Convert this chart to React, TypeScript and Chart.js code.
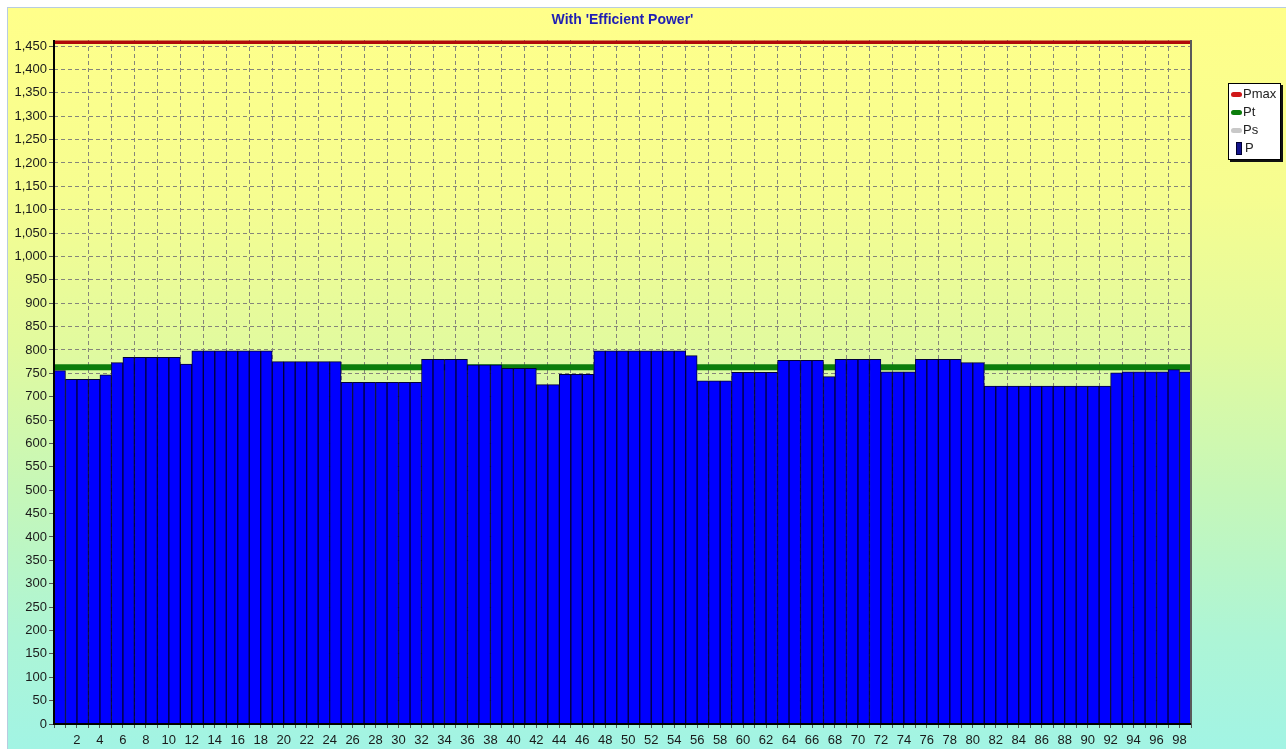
import React, { useEffect, useRef } from 'react';
import { Chart, registerables } from 'chart.js';

Chart.register(...registerables);

const TITLE = "With 'Efficient Power'";

// x tick labels (interval boundaries)
const X_LABELS = [
  2, 4, 6, 8, 10, 12, 14, 16, 18, 20, 22, 24, 26, 28, 30, 32, 34, 36, 38, 40,
  42, 44, 46, 48, 50, 52, 54, 56, 58, 60, 62, 64, 66, 68, 70, 72, 74, 76, 78, 80,
  82, 84, 86, 88, 90, 92, 94, 96, 98,
];

// P (blue bars), one value per interval 1..99
const P = [
  756, 737, 737, 737, 747, 773, 784, 784, 784, 784,
  784, 770, 798, 798, 798, 798, 798, 798, 798, 775,
  775, 775, 775, 775, 775, 731, 731, 731, 731, 731,
  731, 731, 780, 780, 780, 780, 768, 768, 768, 761,
  761, 761, 726, 726, 748, 748, 748, 798, 798, 798,
  798, 798, 798, 798, 798, 788, 734, 734, 734, 752,
  752, 752, 752, 778, 778, 778, 778, 743, 780, 780,
  780, 780, 753, 753, 753, 780, 780, 780, 780, 773,
  773, 723, 723, 723, 723, 723, 723, 723, 723, 723,
  723, 723, 751, 753, 753, 753, 753, 758, 753,
];

// Pt (green), one value per interval
const PT = [
  763, 763, 763, 763, 763, 763, 763, 763, 763, 763,
  763, 763, 763, 763, 763, 763, 763, 763, 763, 763,
  763, 763, 763, 763, 763, 763, 763, 763, 763, 763,
  763, 763, 763, 763, 763, 763, 763, 763, 763, 763,
  763, 763, 763, 763, 763, 763, 763, 763, 763, 763,
  763, 763, 763, 763, 763, 763, 763, 763, 763, 763,
  763, 763, 763, 763, 763, 763, 763, 763, 763, 763,
  763, 763, 763, 763, 763, 763, 763, 763, 763, 763,
  763, 763, 763, 763, 763, 763, 763, 763, 763, 763,
  763, 763, 763, 763, 763, 763, 763, 763, 763,
];

// Pmax (red), one value per interval
const PMAX = [
  1458, 1458, 1458, 1458, 1458, 1458, 1458, 1458, 1458, 1458,
  1458, 1458, 1458, 1458, 1458, 1458, 1458, 1458, 1458, 1458,
  1458, 1458, 1458, 1458, 1458, 1458, 1458, 1458, 1458, 1458,
  1458, 1458, 1458, 1458, 1458, 1458, 1458, 1458, 1458, 1458,
  1458, 1458, 1458, 1458, 1458, 1458, 1458, 1458, 1458, 1458,
  1458, 1458, 1458, 1458, 1458, 1458, 1458, 1458, 1458, 1458,
  1458, 1458, 1458, 1458, 1458, 1458, 1458, 1458, 1458, 1458,
  1458, 1458, 1458, 1458, 1458, 1458, 1458, 1458, 1458, 1458,
  1458, 1458, 1458, 1458, 1458, 1458, 1458, 1458, 1458, 1458,
  1458, 1458, 1458, 1458, 1458, 1458, 1458, 1458, 1458,
];

const Y_MIN = 0;
const Y_MAX = 1463;
const Y_STEP = 50;

const LEGEND = [
  { label: 'Pmax', color: '#d01818', kind: 'line' },
  { label: 'Pt', color: '#0b7d0b', kind: 'line' },
  { label: 'Ps', color: '#c8c8c8', kind: 'line' },
  { label: 'P', color: '#14148c', kind: 'bar' },
];

const FONT = "'Liberation Sans', Arial, sans-serif";

const stepPoints = (arr: number[]) =>
  arr.map((v, i) => ({ x: i, y: v })).concat([{ x: arr.length, y: arr[arr.length - 1] }]);

const frame = {
  id: 'frame',
  afterDatasetsDraw(chart: any) {
    const { ctx, chartArea: a } = chart;
    ctx.save();
    ctx.strokeStyle = '#5a5a5a';
    ctx.lineWidth = 2;
    ctx.beginPath();
    ctx.moveTo(a.right, a.top);
    ctx.lineTo(a.right, a.bottom);
    ctx.stroke();
    ctx.strokeStyle = '#000';
    ctx.lineWidth = 2;
    ctx.beginPath();
    ctx.moveTo(a.left, a.top);
    ctx.lineTo(a.left, a.bottom);
    ctx.lineTo(a.right, a.bottom);
    ctx.stroke();
    ctx.restore();
  },
};

export default function App() {
  const ref = useRef<HTMLCanvasElement | null>(null);

  useEffect(() => {
    if (!ref.current) return;
    const chart = new Chart(ref.current, {
      type: 'bar',
      data: {
        datasets: [
          {
            type: 'bar',
            label: 'P',
            data: P.map((v, i) => ({ x: i + 0.5, y: v })),
            backgroundColor: '#0000ff',
            borderColor: '#00003a',
            borderWidth: 1,
            barPercentage: 1,
            categoryPercentage: 1,
            order: 0,
          } as any,
          {
            type: 'line',
            label: 'Pt',
            data: stepPoints(PT),
            borderColor: '#0b7d0b',
            borderWidth: 6,
            pointRadius: 0,
            stepped: 'before',
            fill: false,
            order: 1,
          } as any,
          {
            type: 'line',
            label: 'Pmax',
            data: stepPoints(PMAX),
            borderColor: '#b00a0a',
            borderWidth: 3.5,
            pointRadius: 0,
            stepped: 'before',
            fill: false,
            order: 2,
          } as any,
        ],
      },
      options: {
        animation: false,
        responsive: true,
        maintainAspectRatio: false,
        layout: { padding: { top: 32, right: 95, bottom: 0, left: 0 } },
        plugins: {
          legend: { display: false },
          tooltip: { enabled: false },
          title: { display: false },
        },
        scales: {
          x: {
            type: 'linear',
            min: 0,
            max: P.length,
            offset: false,
            afterFit: (s: any) => {
              s.height = 25;
            },
            ticks: {
              stepSize: 1,
              autoSkip: false,
              maxRotation: 0,
              minRotation: 0,
              padding: 5,
              color: '#1a1a1a',
              font: { family: FONT, size: 13 },
              callback: (v: any) => (X_LABELS.includes(Number(v)) ? String(v) : ''),
            },
            grid: {
              offset: false,
              color: (c: any) => {
                const v = c.tick ? c.tick.value : 0;
                return v % 2 === 1 && v > 1 && v < P.length - 1 ? '#85857a' : 'rgba(0,0,0,0)';
              },
              lineWidth: 1,
              tickColor: '#555',
              tickLength: 4,
            },
            border: { display: false, dash: [4, 3] },
          },
          y: {
            type: 'linear',
            min: Y_MIN,
            max: Y_MAX,
            afterFit: (s: any) => {
              s.width = 46;
            },
            ticks: {
              stepSize: Y_STEP,
              includeBounds: false,
              padding: 2,
              color: '#1a1a1a',
              font: { family: FONT, size: 13 },
              callback: (v: any) => Number(v).toLocaleString('en-US'),
            },
            grid: {
              color: (c: any) => (c.tick && c.tick.value > 0 ? '#85857a' : 'rgba(0,0,0,0)'),
              lineWidth: 1,
              tickColor: '#555',
              tickLength: 5,
            },
            border: { display: false, dash: [4, 3] },
          },
        },
      } as any,
      plugins: [frame],
    });
    return () => chart.destroy();
  }, []);

  return (
    <div
      style={{
        position: 'fixed',
        left: 7,
        top: 7,
        right: 0,
        bottom: 0,
        borderTop: '1px solid #b8cce0',
        borderLeft: '1px solid #b8cce0',
        background:
          'linear-gradient(180deg, #ffff8a 0%, #f6fd90 25%, #e2fa9e 45%, #c6f7b8 65%, #adf5d6 85%, #a2f4e4 100%)',
        fontFamily: FONT,
      }}
    >
      <canvas ref={ref} style={{ position: 'absolute', left: 0, top: 0, width: '100%', height: '100%' }} />
      <div
        style={{
          position: 'absolute',
          left: 46,
          width: 1137,
          top: 3,
          textAlign: 'center',
          fontWeight: 'bold',
          fontSize: 14,
          color: '#1e1eb4',
        }}
      >
        {TITLE}
      </div>
      <div
        style={{
          position: 'absolute',
          left: 1220,
          top: 75,
          width: 51,
          height: 74,
          background: '#fff',
          border: '1px solid #000',
          boxShadow: '2px 2px 0 #111',
          paddingTop: 1,
          boxSizing: 'content-box',
        }}
      >
        {LEGEND.map((it) => (
          <div key={it.label} style={{ height: 18, display: 'flex', alignItems: 'center', fontSize: 13, color: '#222' }}>
            {it.kind === 'line' ? (
              <span
                style={{
                  display: 'inline-block',
                  width: 11,
                  height: 5,
                  borderRadius: 3,
                  background: it.color,
                  marginLeft: 2,
                  marginRight: 1,
                }}
              />
            ) : (
              <span
                style={{
                  display: 'inline-block',
                  width: 4,
                  height: 11,
                  background: it.color,
                  border: '0.5px solid #000030',
                  marginLeft: 7,
                  marginRight: 3,
                }}
              />
            )}
            <span style={{ lineHeight: '18px' }}>{it.label}</span>
          </div>
        ))}
      </div>
    </div>
  );
}
